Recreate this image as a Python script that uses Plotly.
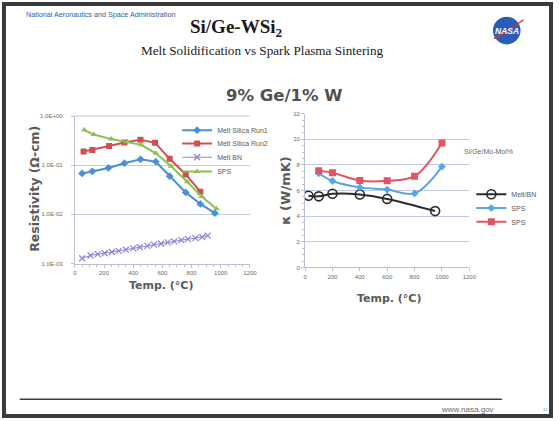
import plotly.graph_objects as go

W, H = 560, 421

# Electrical resistivity (ohm-cm) versus temperature (deg C)
run1_t = [50, 120, 230, 340, 450, 555, 650, 760, 860, 960]
run1_r = [0.068, 0.075, 0.088, 0.11, 0.132, 0.118, 0.06, 0.028, 0.0163, 0.0106]
run2_t = [60, 120, 235, 340, 450, 550, 650, 760, 860]
run2_r = [0.19, 0.205, 0.245, 0.29, 0.33, 0.285, 0.135, 0.065, 0.029]
bn_t = [50, 108, 157, 205, 254, 300, 350, 400, 445, 497, 542, 591, 636, 681, 730, 775, 827, 872, 910]
bn_r = [0.00128, 0.00146, 0.00155, 0.00162, 0.00172, 0.00181, 0.00192, 0.00204, 0.00214, 0.00228,
        0.00242, 0.00253, 0.00269, 0.00282, 0.0030, 0.00314, 0.00329, 0.00344, 0.0037]
sps_t = [65, 130, 250, 360, 455, 555, 660, 770, 870, 970]
sps_r = [0.52, 0.42, 0.34, 0.30, 0.26, 0.175, 0.095, 0.046, 0.023, 0.013]

# Thermal conductivity (W/mK) versus temperature (deg C)
kbn_t = [25, 100, 200, 400, 600, 950]
kbn = [5.6, 5.55, 5.75, 5.7, 5.35, 4.4]
ksps1_t = [100, 200, 400, 600, 800, 1000]
ksps1 = [7.35, 6.75, 6.25, 6.08, 5.78, 7.87]
ksps2_t = [100, 200, 400, 600, 800, 1000]
ksps2 = [7.55, 7.4, 6.78, 6.76, 7.12, 9.72]

res_ticks = [0.001, 0.01, 0.1, 1]
res_ticktext = ["1.0E-03", "1.0E-02", "1.0E-01", "1.0E+00"]
temp_ticks = [0, 200, 400, 600, 800, 1000, 1200]

BLUE = "#4a8fdb"
RED = "#d0504f"
PURPLE = "#8e84d6"
GREEN = "#8cc152"
SBLUE = "#5aa5e6"
SRED = "#e05563"
BLACK = "#2b2b2b"
GRID = "#c3cbe0"
TXT = "#5a5a5a"


def px(x):
    return x / W


def py(y):
    return 1 - y / H


fig = go.Figure()

# Left panel: resistivity
fig.add_trace(go.Scatter(x=run1_t, y=run1_r, name="Melt Silica Run1", mode="lines+markers",
                         line=dict(color=BLUE, width=2), marker=dict(symbol="diamond", size=6, color=BLUE),
                         xaxis="x", yaxis="y", legend="legend"))
fig.add_trace(go.Scatter(x=run2_t, y=run2_r, name="Melt Silica Run2", mode="lines+markers",
                         line=dict(color=RED, width=2), marker=dict(symbol="square", size=6, color=RED),
                         xaxis="x", yaxis="y", legend="legend2"))
fig.add_trace(go.Scatter(x=bn_t, y=bn_r, name="Melt BN", mode="lines+markers",
                         line=dict(color=PURPLE, width=1), marker=dict(symbol="x-thin-open", size=6,
                                                                       line=dict(color=PURPLE, width=1.2)),
                         xaxis="x", yaxis="y", legend="legend3"))
fig.add_trace(go.Scatter(x=sps_t, y=sps_r, name="SPS", mode="lines+markers",
                         line=dict(color=GREEN, width=2), marker=dict(symbol="triangle-up", size=6, color=GREEN),
                         xaxis="x", yaxis="y", legend="legend4"))

# Right panel: thermal conductivity
fig.add_trace(go.Scatter(x=kbn_t, y=kbn, name="Melt/BN", mode="lines+markers", line_shape="spline",
                         line=dict(color=BLACK, width=2),
                         marker=dict(symbol="circle-open", size=9, line=dict(color=BLACK, width=1.6)),
                         xaxis="x2", yaxis="y2", legend="legend5"))
fig.add_trace(go.Scatter(x=ksps1_t, y=ksps1, name="SPS", mode="lines+markers", line_shape="spline",
                         line=dict(color=SBLUE, width=2), marker=dict(symbol="diamond", size=6, color=SBLUE),
                         xaxis="x2", yaxis="y2", legend="legend6"))
fig.add_trace(go.Scatter(x=ksps2_t, y=ksps2, name="SPS", mode="lines+markers", line_shape="spline",
                         line=dict(color=SRED, width=2), marker=dict(symbol="square", size=7, color=SRED),
                         xaxis="x2", yaxis="y2", legend="legend7"))

tickfont = dict(family="Liberation Sans", size=6, color="#6a6a6a")
axis_common = dict(showline=True, linecolor="#b9c0d4", linewidth=1, tickfont=tickfont,
                   ticks="outside", ticklen=3, tickcolor="#b9c0d4", zeroline=False)

legend_font = dict(family="Liberation Sans", size=7, color=TXT)


def legend_at(x, y):
    return dict(x=px(x), y=py(y), xanchor="left", yanchor="middle", bgcolor="rgba(0,0,0,0)",
                font=legend_font, itemwidth=30, borderwidth=0, tracegroupgap=0)


fig.update_layout(
    width=W, height=H, margin=dict(l=0, r=0, t=0, b=0),
    paper_bgcolor="white", plot_bgcolor="white",
    xaxis=dict(domain=[px(74), px(252)], range=[0, 1200], tickvals=temp_ticks, anchor="y",
               showgrid=False, minor=dict(dtick=50, ticks="outside", ticklen=2, tickcolor="#b9c0d4"),
               **axis_common),
    yaxis=dict(domain=[py(264.3), py(114.7)], type="log", range=[-3, 0], tickvals=res_ticks,
               ticktext=res_ticktext, anchor="x", showgrid=True, gridcolor=GRID, gridwidth=1,
               ticklabelstandoff=7, **axis_common),
    xaxis2=dict(domain=[px(308), px(475)], range=[0, 1200], tickvals=temp_ticks, anchor="y2",
                showgrid=False, **axis_common),
    yaxis2=dict(domain=[py(268.3), py(112.3)], range=[0, 12], dtick=2, anchor="x2",
                showgrid=True, gridcolor=GRID, gridwidth=1,
                minor=dict(dtick=0.5, ticks="outside", ticklen=2, tickcolor="#b9c0d4"),
                **axis_common),
    legend=legend_at(178, 129),
    legend2=legend_at(178, 142.5),
    legend3=legend_at(178, 156.5),
    legend4=legend_at(178, 171),
    legend5=legend_at(477, 194),
    legend6=legend_at(477, 208),
    legend7=legend_at(477, 222),
    showlegend=True,
)

annotations = [
    dict(x=px(22), y=py(12), text="National Aeronautics and Space Administration", xanchor="left",
         font=dict(family="Liberation Sans", size=7.2, color="#2f5fa5")),
    dict(x=px(238), y=py(25), text="<b>Si/Ge-WSi<sub>2</sub></b>",
         font=dict(family="Liberation Serif", size=19, color="#1a1a1a")),
    dict(x=px(264.5), y=py(48), text="Melt Solidification vs Spark Plasma Sintering",
         font=dict(family="Liberation Serif", size=13.2, color="#1a1a1a")),
    dict(x=px(287), y=py(94), text="<b>9% Ge/1% W</b>",
         font=dict(family="DejaVu Sans", size=16.5, color="#505050")),
    dict(x=px(33), y=py(188), text="<b>Resistivity (Ω-cm)</b>", textangle=-90,
         font=dict(family="DejaVu Sans", size=12.5, color=TXT)),
    dict(x=px(162), y=py(287), text="<b>Temp. (°C)</b>",
         font=dict(family="DejaVu Sans", size=11, color=TXT)),
    dict(x=px(288), y=py(190), text="<b>κ (W/mK)</b>", textangle=-90,
         font=dict(family="DejaVu Sans", size=13, color=TXT)),
    dict(x=px(393), y=py(300), text="<b>Temp. (°C)</b>",
         font=dict(family="DejaVu Sans", size=11, color=TXT)),
    dict(x=px(468), y=py(151), text="Si/Ge/Mo-Mol%", xanchor="left",
         font=dict(family="Liberation Sans", size=7, color="#6a6a6a")),
    dict(x=px(513), y=py(28), text="<b><i>NASA</i></b>",
         font=dict(family="Liberation Sans", size=8.5, color="white")),
    dict(x=px(502), y=py(412), text="www.nasa.gov", xanchor="right",
         font=dict(family="Liberation Sans", size=8, color="#6a6a6a")),
    dict(x=px(552), y=py(412), text="12",
         font=dict(family="Liberation Sans", size=4, color="#5b7fc0")),
]
for a in annotations:
    a.setdefault("xanchor", "center")
    a.update(xref="paper", yref="paper", yanchor="middle", showarrow=False)
fig.update_layout(annotations=annotations)

shapes = [
    # slide frame
    dict(type="rect", x0=px(2), x1=px(558), y0=py(419), y1=py(1),
         line=dict(color="#3a3a3a", width=4)),
    # footer rule
    dict(type="line", x0=px(18), x1=px(508), y0=py(402), y1=py(402),
         line=dict(color="#3c3c3c", width=1.5)),
    # top border of the resistivity plot
    dict(type="line", x0=px(74), x1=px(252), y0=py(114.7), y1=py(114.7),
         line=dict(color=GRID, width=1)),
    # logo disc
    dict(type="circle", x0=px(499), x1=px(527), y0=py(42), y1=py(14),
         fillcolor="#2a5db5", line=dict(color="#2a5db5", width=0), layer="below"),
    dict(type="path", path="M %f,%f Q %f,%f %f,%f" % (px(500), py(36), px(515), py(28), px(530), py(17)),
         line=dict(color="#d8343a", width=1.5)),
]
for s in shapes:
    s.update(xref="paper", yref="paper")
fig.update_layout(shapes=shapes)

fig.write_html("out.html")
